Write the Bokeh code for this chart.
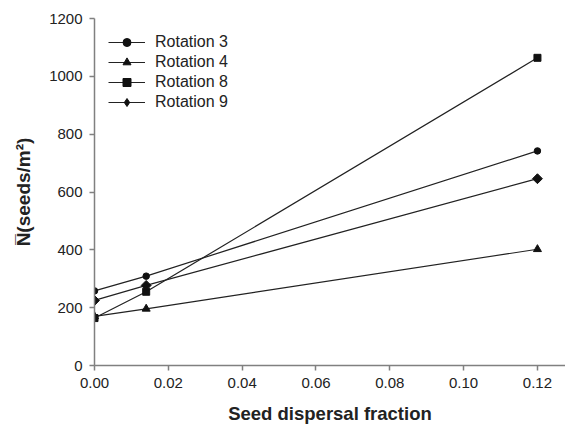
from bokeh.plotting import figure
from bokeh.models import FixedTicker, NumeralTickFormatter, Legend, LegendItem, Range1d
from bokeh.embed import file_html
from bokeh.resources import INLINE
import math

dispersal = [0.0, 0.014, 0.12]
rotation3 = [258, 309, 742]
rotation4 = [170, 196, 402]
rotation8 = [164, 255, 1064]
rotation9 = [225, 277, 646]
series_names = ["Rotation 3", "Rotation 4", "Rotation 8", "Rotation 9"]
x_ticks = [0.0, 0.02, 0.04, 0.06, 0.08, 0.10, 0.12]
y_ticks = [0, 200, 400, 600, 800, 1000, 1200]

FONT = "Liberation Sans"
p = figure(width=565, height=428, output_backend="svg", toolbar_location=None,
           x_range=Range1d(0, 0.1276), y_range=Range1d(0, 1200),
           min_border_left=94, min_border_right=0, min_border_top=18, min_border_bottom=63)
p.outline_line_color = None
p.xgrid.visible = False
p.ygrid.visible = False

for ax in (p.xaxis[0], p.yaxis[0]):
    ax.axis_line_color = "#808080"
    ax.axis_line_width = 1.5
    ax.major_tick_line_color = "#808080"
    ax.major_tick_line_width = 1.5
    ax.major_tick_out = 5
    ax.major_tick_in = 0
    ax.minor_tick_line_color = None
    ax.major_label_text_font = FONT
    ax.major_label_text_font_size = "15px"
    ax.major_label_text_color = "#222222"
p.xaxis.ticker = FixedTicker(ticks=x_ticks)
p.xaxis.formatter = NumeralTickFormatter(format="0.00")
p.yaxis.ticker = FixedTicker(ticks=y_ticks)
p.xaxis.major_label_standoff = 7
p.yaxis.major_label_standoff = 7
p.xaxis.axis_label = "Seed dispersal fraction"
p.xaxis.axis_label_text_font = FONT
p.xaxis.axis_label_text_font_style = "bold"
p.xaxis.axis_label_text_font_size = "18.5px"
p.xaxis.axis_label_text_color = "#222222"
p.xaxis.axis_label_standoff = 12

p.yaxis.axis_label = "N\u0305(seeds/m\u00b2)"
p.yaxis.axis_label_text_font = FONT
p.yaxis.axis_label_text_font_style = "bold"
p.yaxis.axis_label_text_font_size = "19px"
p.yaxis.axis_label_text_color = "#222222"
p.yaxis.axis_label_standoff = 12

markers = ["circle", "triangle", "square", "square"]
sizes = [6.5, 8, 7, 7]
angles = [0, 0, 0, math.pi / 4]
items = []
for name, vals, m, s, a in zip(series_names, [rotation3, rotation4, rotation8, rotation9], markers, sizes, angles):
    l = p.line(dispersal, vals, line_color="#222222", line_width=1.2)
    sc = p.scatter(dispersal, vals, marker=m, size=s, angle=a,
                   fill_color="#111111", line_color="#111111", line_width=1)
    if a:
        # legend-only swatch: a diamond placed off-canvas so only the legend shows it
        sc = p.scatter([-1.0], [-5000.0], marker="diamond", size=11,
                       fill_color="#111111", line_color="#111111", line_width=1)
    items.append(LegendItem(label=name, renderers=[l, sc]))

legend = Legend(items=items, location="top_left", margin=14, padding=0,
                border_line_color=None, background_fill_alpha=0,
                glyph_width=37, glyph_height=20, label_height=20, spacing=0,
                label_standoff=10, label_text_font=FONT, label_text_font_size="16px",
                label_text_color="#222222")
p.add_layout(legend)

open("out.html", "w").write(file_html(p, INLINE))
